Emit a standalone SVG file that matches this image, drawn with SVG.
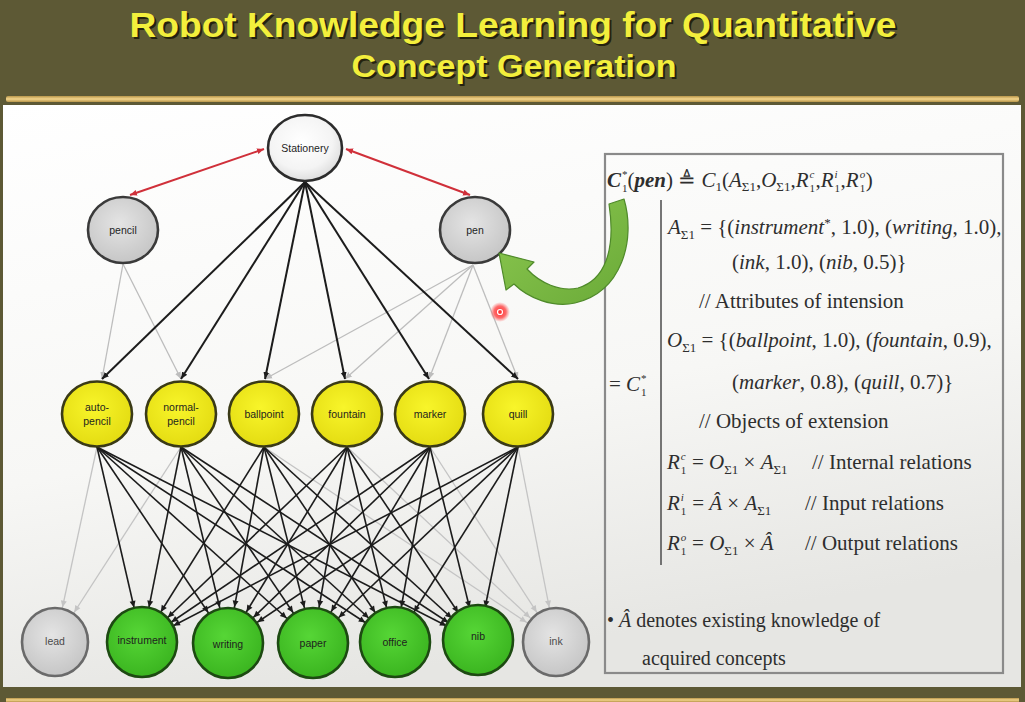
<svg xmlns="http://www.w3.org/2000/svg" xmlns:xlink="http://www.w3.org/1999/xlink" width="1025" height="702" viewBox="0 0 1025 702">
  <style>
    .ttl { font-family: "Liberation Sans", Arial, sans-serif; font-weight: bold; }
    .lbl { font-family: "Liberation Sans", Arial, sans-serif; font-size: 10.5px; fill: #1e1e1e; text-anchor: middle; }
    .lbl-g { fill: #4a4a4a; }
    .e-top { stroke: #1c1c1c; stroke-width: 2; fill: none; marker-end: url(#ah); }
    .e-bot { stroke: #1c1c1c; stroke-width: 1.6; fill: none; marker-end: url(#ahO); }
    .e-gray { stroke: #bdbdbd; stroke-width: 1.3; fill: none; marker-end: url(#ahG); }
    .e-grayb { stroke: #c4c4c4; stroke-width: 1.3; fill: none; marker-end: url(#ahGO); }
    .e-red { stroke: #d0303a; stroke-width: 2; fill: none; marker-start: url(#ahR); marker-end: url(#ahR); }
    .n-white { fill: url(#gWhite); stroke: #2c2c2c; stroke-width: 2.6; }
    .n-gray { fill: url(#gGray); stroke: #3a3a3a; stroke-width: 2.6; }
    .n-gray2 { fill: url(#gGray); stroke: #6a6a6a; stroke-width: 2.6; }
    .n-yel { fill: url(#gYel); stroke: #3a3a16; stroke-width: 2.6; }
    .n-grn { fill: url(#gGrn); stroke: #1d4a12; stroke-width: 2.6; }
    .f { font-family: "Liberation Serif", "DejaVu Serif", serif; font-size: 21px; fill: #2e2e2e; }
    .f20 { font-size: 20px; }
    .it { font-style: italic; }
    .bi { font-weight: bold; font-style: italic; }
    .sm { font-size: 13px; }
    .ss { font-size: 11px; }
  </style>
  <defs>
    <linearGradient id="gBar" x1="0" y1="0" x2="0" y2="1">
      <stop offset="0" stop-color="#b8964a"/>
      <stop offset="0.5" stop-color="#f3d58c"/>
      <stop offset="1" stop-color="#b8964a"/>
    </linearGradient>
    <linearGradient id="gPanel" x1="0" y1="0" x2="0.3" y2="1">
      <stop offset="0" stop-color="#ffffff"/>
      <stop offset="0.6" stop-color="#f7f7f5"/>
      <stop offset="1" stop-color="#e6e6e3"/>
    </linearGradient>
    <radialGradient id="gWhite" cx="0.45" cy="0.4" r="0.6">
      <stop offset="0" stop-color="#ffffff"/>
      <stop offset="0.7" stop-color="#f4f4f4"/>
      <stop offset="1" stop-color="#dedede"/>
    </radialGradient>
    <radialGradient id="gGray" cx="0.45" cy="0.4" r="0.6">
      <stop offset="0" stop-color="#e4e4e4"/>
      <stop offset="1" stop-color="#c6c6c6"/>
    </radialGradient>
    <radialGradient id="gYel" cx="0.45" cy="0.4" r="0.6">
      <stop offset="0" stop-color="#f8f52a"/>
      <stop offset="1" stop-color="#e4dc12"/>
    </radialGradient>
    <radialGradient id="gGrn" cx="0.45" cy="0.4" r="0.6">
      <stop offset="0" stop-color="#56d636"/>
      <stop offset="1" stop-color="#3bb520"/>
    </radialGradient>
    <radialGradient id="gDot" cx="0.5" cy="0.5" r="0.5">
      <stop offset="0" stop-color="#ff2a2a" stop-opacity="1"/>
      <stop offset="0.6" stop-color="#ff3c3c" stop-opacity="0.75"/>
      <stop offset="1" stop-color="#ff6060" stop-opacity="0"/>
    </radialGradient>
    <linearGradient id="gArrow" x1="0" y1="0" x2="1" y2="1">
      <stop offset="0" stop-color="#8cc850"/>
      <stop offset="1" stop-color="#6aaa38"/>
    </linearGradient>
    <!-- arrowheads: tip at path end -->
    <marker id="ah" markerUnits="userSpaceOnUse" markerWidth="8" markerHeight="8" refX="7" refY="4" orient="auto">
      <path d="M0,1 L7,4 L0,7 z" fill="#1c1c1c"/>
    </marker>
    <marker id="ahG" markerUnits="userSpaceOnUse" markerWidth="8" markerHeight="8" refX="7" refY="4" orient="auto">
      <path d="M0,1 L7,4 L0,7 z" fill="#bdbdbd"/>
    </marker>
    <marker id="ahR" markerUnits="userSpaceOnUse" markerWidth="8" markerHeight="8" refX="7" refY="4" orient="auto-start-reverse">
      <path d="M0,1 L7,4 L0,7 z" fill="#d0303a"/>
    </marker>
    <!-- arrowheads for edges drawn to a node centre: tip sits on the node rim -->
    <marker id="ahO" markerUnits="userSpaceOnUse" markerWidth="1" markerHeight="1" refX="0" refY="0" orient="auto" overflow="visible">
      <path d="M-42,-3 L-35.5,0 L-42,3 z" fill="#1c1c1c"/>
    </marker>
    <marker id="ahGO" markerUnits="userSpaceOnUse" markerWidth="1" markerHeight="1" refX="0" refY="0" orient="auto" overflow="visible">
      <path d="M-42,-3 L-35.5,0 L-42,3 z" fill="#c4c4c4"/>
    </marker>
    <text id="title1" class="ttl" x="513" y="37" text-anchor="middle" font-size="35" textLength="767" lengthAdjust="spacingAndGlyphs">Robot Knowledge Learning for Quantitative</text>
    <text id="title2" class="ttl" x="514" y="77" text-anchor="middle" font-size="31" textLength="325" lengthAdjust="spacingAndGlyphs">Concept Generation</text>
  </defs>

  <!-- slide background -->
  <rect x="0" y="0" width="1025" height="702" fill="#5d5935"/>
  <use xlink:href="#title1" x="2" y="2" fill="#24220e"/>
  <use xlink:href="#title1" fill="#f3ef3c"/>
  <use xlink:href="#title2" x="2" y="2" fill="#24220e"/>
  <use xlink:href="#title2" fill="#f3ef3c"/>
  <rect x="6" y="96" width="1013" height="6" rx="2" fill="url(#gBar)"/>
  <rect x="3" y="105" width="1018" height="582" fill="url(#gPanel)"/>
  <rect x="6" y="698" width="1013" height="4" fill="url(#gBar)"/>

  <!-- connectors -->
  <g id="connectors">
    <!-- generalisation links -->
    <path class="e-red" d="M130 195 L264 149"/>
    <path class="e-red" d="M346 149 L470 195"/>
    <!-- pencil / pen to sub-concepts -->
    <path class="e-gray" d="M123 264 L102 379"/>
    <path class="e-gray" d="M123 264 L181 379"/>
    <path class="e-gray" d="M473 265 L265 379"/>
    <path class="e-gray" d="M473 265 L345 379"/>
    <path class="e-gray" d="M473 265 L429 379"/>
    <path class="e-gray" d="M473 265 L518 379"/>
    <!-- Stationery to objects -->
    <path class="e-top" d="M305 182 L102 379"/>
    <path class="e-top" d="M305 182 L181 379"/>
    <path class="e-top" d="M305 182 L265 379"/>
    <path class="e-top" d="M305 182 L345 379"/>
    <path class="e-top" d="M305 182 L429 379"/>
    <path class="e-top" d="M305 182 L518 379"/>
    <!-- objects to lead / ink -->
    <path class="e-grayb" d="M97 447 L55 642"/>
    <path class="e-grayb" d="M181 447 L55 642"/>
    <path class="e-grayb" d="M264 447 L556 642"/>
    <path class="e-grayb" d="M347 447 L556 642"/>
    <path class="e-grayb" d="M430 447 L556 642"/>
    <path class="e-grayb" d="M518 447 L556 642"/>
    <!-- objects to shared attributes -->
    <path class="e-bot" d="M97 447 L142 642"/>
    <path class="e-bot" d="M97 447 L228 642"/>
    <path class="e-bot" d="M97 447 L313 642"/>
    <path class="e-bot" d="M97 447 L395 642"/>
    <path class="e-bot" d="M97 447 L478 642"/>
    <path class="e-bot" d="M181 447 L142 642"/>
    <path class="e-bot" d="M181 447 L228 642"/>
    <path class="e-bot" d="M181 447 L313 642"/>
    <path class="e-bot" d="M181 447 L395 642"/>
    <path class="e-bot" d="M181 447 L478 642"/>
    <path class="e-bot" d="M264 447 L142 642"/>
    <path class="e-bot" d="M264 447 L228 642"/>
    <path class="e-bot" d="M264 447 L313 642"/>
    <path class="e-bot" d="M264 447 L395 642"/>
    <path class="e-bot" d="M264 447 L478 642"/>
    <path class="e-bot" d="M347 447 L142 642"/>
    <path class="e-bot" d="M347 447 L228 642"/>
    <path class="e-bot" d="M347 447 L313 642"/>
    <path class="e-bot" d="M347 447 L395 642"/>
    <path class="e-bot" d="M347 447 L478 642"/>
    <path class="e-bot" d="M430 447 L142 642"/>
    <path class="e-bot" d="M430 447 L228 642"/>
    <path class="e-bot" d="M430 447 L313 642"/>
    <path class="e-bot" d="M430 447 L395 642"/>
    <path class="e-bot" d="M430 447 L478 642"/>
    <path class="e-bot" d="M518 447 L142 642"/>
    <path class="e-bot" d="M518 447 L228 642"/>
    <path class="e-bot" d="M518 447 L313 642"/>
    <path class="e-bot" d="M518 447 L395 642"/>
    <path class="e-bot" d="M518 447 L478 642"/>
  </g>

  <!-- concept nodes -->
  <g id="node-stationery"><ellipse class="n-white" cx="305" cy="148" rx="37" ry="33"/><text class="lbl" x="305" y="152">Stationery</text></g>
  <g id="node-pencil"><ellipse class="n-gray" cx="123" cy="230" rx="35" ry="33"/><text class="lbl" x="123" y="234">pencil</text></g>
  <g id="node-pen"><ellipse class="n-gray" cx="475" cy="230" rx="35" ry="33"/><text class="lbl" x="475" y="234">pen</text></g>

  <g id="node-auto-pencil"><ellipse class="n-yel" cx="97" cy="414" rx="35" ry="32.5"/><text class="lbl" x="97" y="411">auto-</text><text class="lbl" x="97" y="425">pencil</text></g>
  <g id="node-normal-pencil"><ellipse class="n-yel" cx="181" cy="414" rx="35" ry="32.5"/><text class="lbl" x="181" y="411">normal-</text><text class="lbl" x="181" y="425">pencil</text></g>
  <g id="node-ballpoint"><ellipse class="n-yel" cx="264" cy="414" rx="35" ry="32.5"/><text class="lbl" x="264" y="418">ballpoint</text></g>
  <g id="node-fountain"><ellipse class="n-yel" cx="347" cy="414" rx="35" ry="32.5"/><text class="lbl" x="347" y="418">fountain</text></g>
  <g id="node-marker"><ellipse class="n-yel" cx="430" cy="414" rx="35" ry="32.5"/><text class="lbl" x="430" y="418">marker</text></g>
  <g id="node-quill"><ellipse class="n-yel" cx="518" cy="414" rx="35" ry="32.5"/><text class="lbl" x="518" y="418">quill</text></g>

  <g id="node-lead"><ellipse class="n-gray2" cx="55" cy="642" rx="33" ry="34"/><text class="lbl lbl-g" x="55" y="645">lead</text></g>
  <g id="node-instrument"><ellipse class="n-grn" cx="142" cy="642" rx="35" ry="35"/><text class="lbl" x="142" y="644">instrument</text></g>
  <g id="node-writing"><ellipse class="n-grn" cx="228" cy="643" rx="35" ry="35"/><text class="lbl" x="228" y="648">writing</text></g>
  <g id="node-paper"><ellipse class="n-grn" cx="313" cy="643" rx="35" ry="35"/><text class="lbl" x="313" y="647">paper</text></g>
  <g id="node-office"><ellipse class="n-grn" cx="395" cy="642" rx="35" ry="35"/><text class="lbl" x="395" y="646">office</text></g>
  <g id="node-nib"><ellipse class="n-grn" cx="478" cy="640" rx="35" ry="35"/><text class="lbl" x="478" y="640">nib</text></g>
  <g id="node-ink"><ellipse class="n-gray2" cx="556" cy="642" rx="33" ry="34"/><text class="lbl lbl-g" x="556" y="645">ink</text></g>

  <!-- definition box -->
  <g id="definition">
    <rect x="605" y="154" width="398" height="519" fill="none" stroke="#8a8a8a" stroke-width="2.2"/>
    <line x1="661" y1="200" x2="661" y2="565" stroke="#555" stroke-width="1.6"/>

    <text class="f" x="607" y="187"><tspan class="bi">C</tspan><tspan class="ss" dx="1" dy="-9">*</tspan><tspan class="ss" dx="-5.5" dy="14">1</tspan><tspan dy="-5">(</tspan><tspan class="bi">pen</tspan><tspan>) ≜ </tspan><tspan class="it">C</tspan><tspan class="sm" dy="4">1</tspan><tspan dy="-4">(</tspan><tspan class="it">A</tspan><tspan class="sm" dy="4">Σ1</tspan><tspan dy="-4">,</tspan><tspan class="it">O</tspan><tspan class="sm" dy="4">Σ1</tspan><tspan dy="-4">,</tspan><tspan class="it">R</tspan><tspan class="ss" dx="1" dy="5">1</tspan><tspan class="ss it" dx="-5.5" dy="-14">c</tspan><tspan dx="1" dy="9">,</tspan><tspan class="it">R</tspan><tspan class="ss" dx="1" dy="5">1</tspan><tspan class="ss it" dx="-5.5" dy="-14">i</tspan><tspan dx="3" dy="9">,</tspan><tspan class="it">R</tspan><tspan class="ss" dx="1" dy="5">1</tspan><tspan class="ss it" dx="-5.5" dy="-14">o</tspan><tspan dx="0.5" dy="9">)</tspan></text>

    <text class="f" x="668" y="234"><tspan class="it">A</tspan><tspan class="sm" dy="5">Σ1</tspan><tspan dy="-5"> = {(</tspan><tspan class="it">instrument</tspan><tspan class="sm" dy="-7">*</tspan><tspan dy="7">, 1.0), (</tspan><tspan class="it">writing</tspan><tspan>, 1.0),</tspan></text>
    <text class="f" x="732" y="269">(<tspan class="it">ink</tspan>, 1.0), (<tspan class="it">nib</tspan>, 0.5)}</text>
    <text class="f" x="699" y="308">// Attributes of intension</text>

    <text class="f" x="667" y="347"><tspan class="it">O</tspan><tspan class="sm" dy="5">Σ1</tspan><tspan dy="-5"> = {(</tspan><tspan class="it">ballpoint</tspan><tspan>, 1.0), (</tspan><tspan class="it">fountain</tspan><tspan>, 0.9),</tspan></text>
    <text class="f" x="609" y="391">= <tspan class="it">C</tspan><tspan class="ss" dx="1" dy="-9">*</tspan><tspan class="ss" dx="-5.5" dy="14">1</tspan></text>
    <text class="f" x="732" y="389">(<tspan class="it">marker</tspan>, 0.8), (<tspan class="it">quill</tspan>, 0.7)}</text>
    <text class="f" x="699" y="428">// Objects of extension</text>

    <text class="f" x="667" y="469"><tspan class="it">R</tspan><tspan class="ss" dx="1" dy="5">1</tspan><tspan class="ss it" dx="-5.5" dy="-14">c</tspan><tspan dx="1" dy="9"> = </tspan><tspan class="it">O</tspan><tspan class="sm" dy="5">Σ1</tspan><tspan dy="-5"> × </tspan><tspan class="it">A</tspan><tspan class="sm" dy="5">Σ1</tspan></text>
    <text class="f" x="812" y="469">// Internal relations</text>

    <text class="f" x="667" y="510"><tspan class="it">R</tspan><tspan class="ss" dx="1" dy="5">1</tspan><tspan class="ss it" dx="-5.5" dy="-14">i</tspan><tspan dx="3" dy="9"> = </tspan><tspan class="it">Â</tspan><tspan> × </tspan><tspan class="it">A</tspan><tspan class="sm" dy="5">Σ1</tspan></text>
    <text class="f" x="805" y="510">// Input relations</text>

    <text class="f" x="667" y="550"><tspan class="it">R</tspan><tspan class="ss" dx="1" dy="5">1</tspan><tspan class="ss it" dx="-5.5" dy="-14">o</tspan><tspan dx="0.5" dy="9"> = </tspan><tspan class="it">O</tspan><tspan class="sm" dy="5">Σ1</tspan><tspan dy="-5"> × </tspan><tspan class="it">Â</tspan></text>
    <text class="f" x="805" y="550">// Output relations</text>

    <text class="f f20" x="607" y="627">• <tspan class="it">Â</tspan> denotes existing knowledge of</text>
    <text class="f f20" x="642" y="665">acquired concepts</text>
  </g>

  <!-- curved pointer from the definition to the pen node -->
  <path d="M609 204 L624 199 C636 240 622 292 575 303 C553 308 528 298 514 284 L506 290 L499 253 L534 262 L527 269 C540 283 560 292 578 288 C605 280 616 250 609 204 Z" fill="url(#gArrow)" stroke="#4f8a2a" stroke-width="1.2" stroke-linejoin="round"/>

  <!-- pointer highlight -->
  <circle cx="500" cy="312" r="10" fill="url(#gDot)"/>
  <circle cx="500" cy="312" r="2.5" fill="none" stroke="#ffffff" stroke-width="1.2"/>
</svg>
